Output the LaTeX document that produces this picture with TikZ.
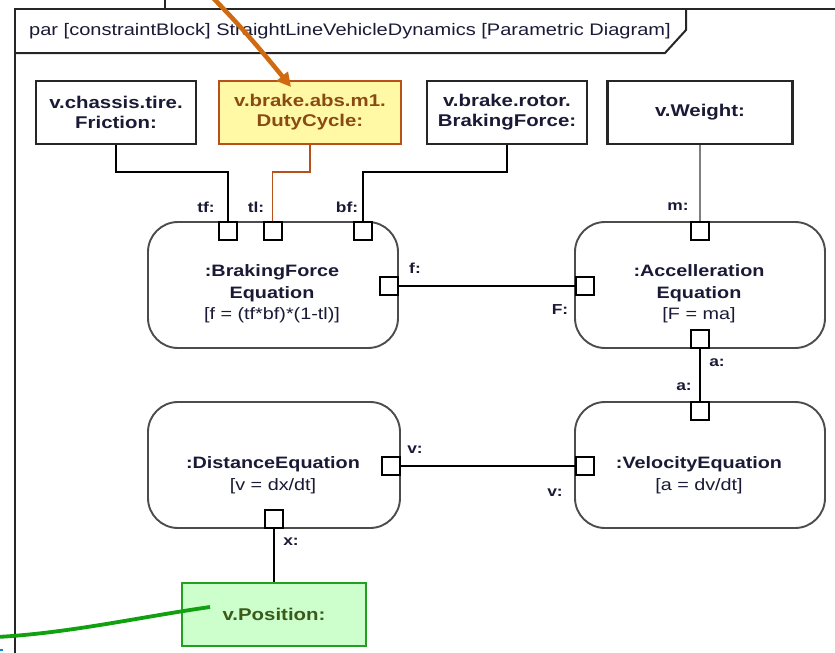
\documentclass[tikz,border=0pt]{standalone}
\usepackage{fontspec}
\setmainfont{Liberation Sans}[FakeStretch=1.2]
\usetikzlibrary{arrows.meta}
\definecolor{txt}{HTML}{1A1A36}
\definecolor{dutyfill}{HTML}{FFF9A6}
\definecolor{dutyline}{HTML}{B8501A}
\definecolor{dutytxt}{HTML}{8A4A14}
\definecolor{posfill}{HTML}{CCFFCC}
\definecolor{posline}{HTML}{22A022}
\definecolor{postxt}{HTML}{3A5A1A}
\definecolor{noteorange}{HTML}{D06A10}
\definecolor{notegreen}{HTML}{10A010}
\begin{document}
\begin{tikzpicture}[x=1pt,y=-1pt,
  valbox/.style={draw=black!85, line width=2.2pt, fill=white, inner sep=0pt,
    minimum height=63pt, align=center, text=txt,
    font=\fontsize{17}{20}\selectfont\bfseries},
  cblock/.style={draw=black!70, line width=1.9pt, fill=white, inner sep=0pt,
    minimum width=250pt, minimum height=126pt, rounded corners=30pt},
  ctext/.style={align=center, text=txt, inner sep=0pt,
    font=\fontsize{16.5}{21.5}\selectfont\bfseries},
  port/.style={draw=black, line width=2pt, fill=white, inner sep=0pt,
    minimum width=18pt, minimum height=18pt},
  plabel/.style={text=txt, inner sep=0pt, font=\fontsize{14.5}{16}\selectfont\bfseries},
  wire/.style={draw=black, line width=2pt}
]
\useasboundingbox (0,0) rectangle (835,653);

% frame
\draw[black!85, line width=2pt] (15,660) -- (15,9) -- (840,9);
\draw[black!85, line width=1.5pt] (165,-2) -- (165,9);
\draw[black!85, line width=2pt] (686,9) -- (686,30) -- (665,53) -- (15,53);
\node[anchor=west, text=txt, inner sep=0pt, font=\fontsize{16.7}{19}\selectfont]
  (hdr) at (29,31) {par [constraintBlock] StraightLineVehicleDynamics [Parametric Diagram]};

% value boxes
\node[valbox, minimum width=160pt] (fric) at (116,112.5) {v.chassis.tire.\\Friction:};
\node[valbox, minimum width=182pt, fill=dutyfill, draw=dutyline, text=dutytxt] (duty) at (310,112.5) {v.brake.abs.m1.\\DutyCycle:};
\node[valbox, minimum width=160pt] (rotor) at (507,112.5) {v.brake.rotor.\\BrakingForce:};
\node[valbox, minimum width=185pt] (weight) at (700,112.5) {v.Weight:};
\node[valbox, minimum width=184pt, fill=posfill, draw=posline, text=postxt] (pos) at (274,614.5) {v.Position:};

% constraint blocks
\node[cblock] (brake) at (273,285) {};
\node[cblock] (accel) at (700,285) {};
\node[cblock, minimum width=252pt] (dist) at (274,465) {};
\node[cblock] (vel) at (700,465) {};

\node[ctext] (braket) at (272,294) {:BrakingForce\\Equation\\{\mdseries [f = (tf*bf)*(1-tl)]}};
\node[ctext] (accelt) at (699,294) {:Accelleration\\Equation\\{\mdseries [F = ma]}};
\node[ctext] (distt) at (273,475) {:DistanceEquation\\{\mdseries [v = dx/dt]}};
\node[ctext] (velt) at (699,475) {:VelocityEquation\\{\mdseries [a = dv/dt]}};

% ports
\node[port] (ptf) at (228,231) {};
\node[port] (ptl) at (272.5,231) {};
\node[port] (pbf) at (363,231) {};
\node[port] (pf) at (389,285.5) {};
\node[port] (pF) at (585,285.5) {};
\node[port] (pm) at (700,231) {};
\node[port] (pa1) at (700,339) {};
\node[port] (pa2) at (700,411) {};
\node[port] (pv1) at (391,465.5) {};
\node[port] (pv2) at (585,465.5) {};
\node[port] (px) at (274,519) {};

% port labels
\node[plabel] (ltf) at (206,207) {tf:};
\node[plabel] (ltl) at (256,207) {tl:};
\node[plabel] (lbf) at (347,207) {bf:};
\node[plabel] (lf) at (415,268) {f:};
\node[plabel] (lF) at (560,310) {F:};
\node[plabel] (lm) at (678,207) {m:};
\node[plabel] (la1) at (717,363) {a:};
\node[plabel] (la2) at (684,387) {a:};
\node[plabel] (lv1) at (415,450) {v:};
\node[plabel] (lv2) at (555,493) {v:};
\node[plabel] (lx) at (291,542) {x:};

% connectors
\coordinate (jy) at (0,172);
\draw[wire] (fric.south) -- (fric.south |- jy) -| (ptf.north);
\draw[wire, draw=dutyline, line width=1.8pt] (duty.south) -- (duty.south |- jy) -| (ptl.north);
\draw[wire] (rotor.south) -- (rotor.south |- jy) -| (pbf.north);
\draw[wire, draw=black!50, line width=1.8pt] (weight.south) -- (pm.north);
\draw[wire] (pf.east) -- (pF.west);
\draw[wire] (pa1.south) -- (pa2.north);
\draw[wire] (pv1.east) -- (pv2.west);
\draw[wire] (px.south) -- (pos.north);

% annotation callouts
\coordinate (oStart) at (212,-3);
\coordinate (oEnd) at (291,87);
\draw[noteorange, line width=4.5pt, -{Triangle[length=14pt,width=14pt]}]
  (oStart) .. controls (240,25) and (265,55) .. (oEnd);
\coordinate (gStart) at (-3,637);
\coordinate (gEnd) at (210,607);
\draw[notegreen, line width=3.8pt] (gStart) .. controls (70,633) and (140,617) .. (gEnd);
\draw[cyan!70!blue, line width=2pt] (0,650) -- (3,650);
\end{tikzpicture}
\end{document}
